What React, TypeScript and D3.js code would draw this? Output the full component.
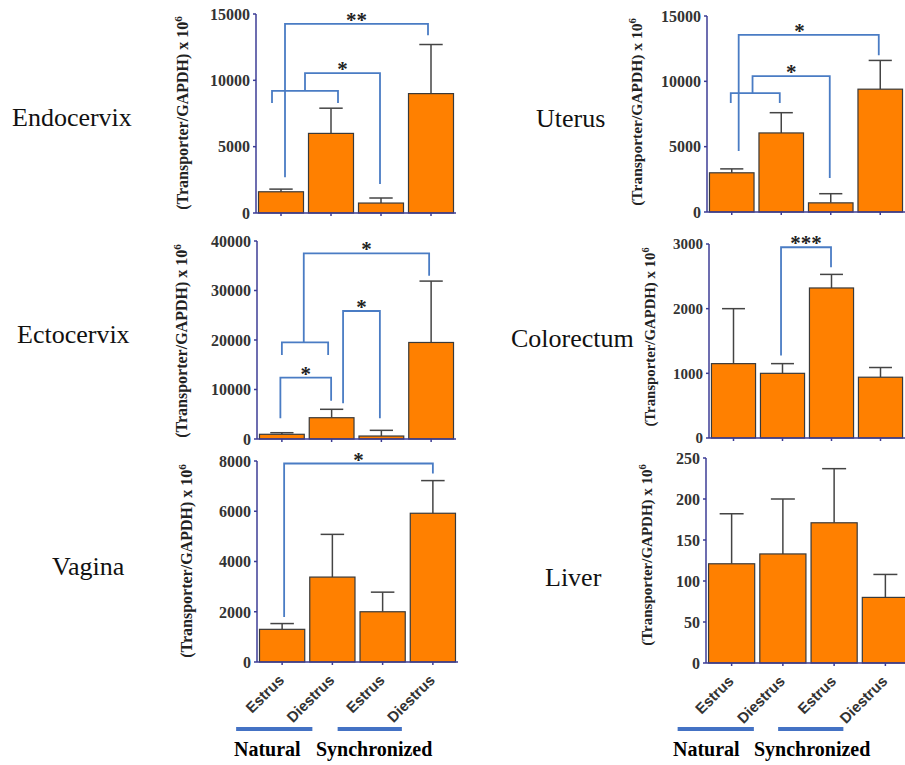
import React from "react";
import * as d3 from "d3";

// ---------- data ----------
const stages = ["Estrus", "Diestrus", "Estrus", "Diestrus"];
const groupNames = ["Natural", "Synchronized"];
const tissues = ["Endocervix", "Uterus", "Ectocervix", "Colorectum", "Vagina", "Liver"];
const yAxisTitle = "(Transporter/GAPDH) x 10";
const yAxisExp = "6";

const endocervixMean = [1600, 6000, 750, 9000];
const endocervixSEM = [200, 1900, 380, 3700];
const uterusMean = [3000, 6050, 700, 9400];
const uterusSEM = [300, 1550, 700, 2200];
const ectocervixMean = [950, 4300, 600, 19500];
const ectocervixSEM = [320, 1700, 1150, 12400];
const colorectumMean = [1150, 1000, 2320, 940];
const colorectumSEM = [850, 150, 210, 150];
const vaginaMean = [1300, 3380, 2000, 5920];
const vaginaSEM = [230, 1700, 780, 1300];
const liverMean = [121, 133, 171, 80];
const liverSEM = [61, 67, 66, 28];

const endocervixTicks = [0, 5000, 10000, 15000];
const uterusTicks = [0, 5000, 10000, 15000];
const ectocervixTicks = [0, 10000, 20000, 30000, 40000];
const colorectumTicks = [0, 1000, 2000, 3000];
const vaginaTicks = [0, 2000, 4000, 6000, 8000];
const liverTicks = [0, 50, 100, 150, 200, 250];

// significance brackets: x in bar-index units, y in data units
const endocervixSig = [
  { x1: -0.18, x2: 1.14, y: 9200, y1: 8290, y2: 8290, label: "" },
  { x1: 0.48, x2: 1.98, y: 10550, y1: 9200, y2: 2190, label: "*" },
  { x1: 0.08, x2: 2.94, y: 14250, y1: 2700, y2: 13400, label: "**" },
];
const uterusSig = [
  { x1: -0.02, x2: 0.97, y: 9100, y1: 8340, y2: 8340, label: "" },
  { x1: 0.42, x2: 1.98, y: 10400, y1: 9100, y2: 2600, label: "*" },
  { x1: 0.14, x2: 2.97, y: 13550, y1: 4670, y2: 12000, label: "*", lx: 1.37 },
];
const ectocervixSig = [
  { x1: -0.03, x2: 0.99, y: 12380, y1: 4180, y2: 7740, label: "*" },
  { x1: 1.23, x2: 1.97, y: 25860, y1: 7210, y2: 4180, label: "*" },
  { x1: 0.0, x2: 0.93, y: 19540, y1: 16970, y2: 16970, label: "" },
  { x1: 0.44, x2: 2.96, y: 37500, y1: 19540, y2: 32990, label: "*" },
];
const colorectumSig = [{ x1: 0.97, x2: 1.99, y: 2950, y1: 1275, y2: 2640, label: "***" }];
const vaginaSig = [{ x1: 0.04, x2: 3.0, y: 7900, y1: 1790, y2: 7500, label: "*" }];
const liverSig: any[] = [];

// ---------- layout ----------
const panels = [
  { name: tissues[0], mean: endocervixMean, sem: endocervixSEM, ticks: endocervixTicks, sig: endocervixSig,
    axisX: 256, rangeEnd: 456, yTop: 14, yZero: 213, nameX: 12, nameY: 126, titleX: 188, titleY: 113, titleSize: 16, tickSize: 16, xLabels: false },
  { name: tissues[1], mean: uterusMean, sem: uterusSEM, ticks: uterusTicks, sig: uterusSig,
    axisX: 707, rangeEnd: 905, yTop: 16, yZero: 212, nameX: 536, nameY: 127, titleX: 642, titleY: 112, titleSize: 15.5, tickSize: 16, xLabels: false },
  { name: tissues[2], mean: ectocervixMean, sem: ectocervixSEM, ticks: ectocervixTicks, sig: ectocervixSig,
    axisX: 257, rangeEnd: 456, yTop: 241, yZero: 439, nameX: 17, nameY: 343, titleX: 187, titleY: 341, titleSize: 16, tickSize: 16, xLabels: false },
  { name: tissues[3], mean: colorectumMean, sem: colorectumSEM, ticks: colorectumTicks, sig: colorectumSig,
    axisX: 709, rangeEnd: 905, yTop: 244, yZero: 438, nameX: 511, nameY: 347, titleX: 655, titleY: 337, titleSize: 14.8, tickSize: 15, xLabels: false },
  { name: tissues[4], mean: vaginaMean, sem: vaginaSEM, ticks: vaginaTicks, sig: vaginaSig,
    axisX: 257, rangeEnd: 458, yTop: 461, yZero: 662, nameX: 52, nameY: 575, titleX: 192, titleY: 561, titleSize: 16, tickSize: 16, xLabels: true,
    groupLines: [[-46, -20], [-45, -31]], groupTextX: [234, 316] },
  { name: tissues[5], mean: liverMean, sem: liverSEM, ticks: liverTicks, sig: liverSig,
    axisX: 706, rangeEnd: 911, yTop: 458, yZero: 663, nameX: 545, nameY: 586, titleX: 652, titleY: 555, titleSize: 15, tickSize: 16, xLabels: true,
    groupLines: [[-54, -29], [-56, -42]], groupTextX: [673, 754] },
];

const AXIS = "#3c3c96";
const BAR = "#ff8000";
const BRACKET = "#4a7cc4";
const SERIF = "'Liberation Serif', 'Times New Roman', serif";
const SANS = "'Liberation Sans', Arial, sans-serif";

function Panel({ p }: { p: any }) {
  const idx = d3.range(p.mean.length);
  const x = d3.scaleBand<number>().domain(idx).range([p.axisX, p.rangeEnd]).paddingInner(0.1).paddingOuter(0.05);
  const yMax = p.ticks[p.ticks.length - 1];
  const y = d3.scaleLinear().domain([0, yMax]).range([p.yZero, p.yTop]);
  const step = x.step();
  const cx = (i: number) => (x(0) as number) + x.bandwidth() / 2 + i * step;
  const bw = x.bandwidth();
  const cap = bw * 0.52;
  return (
    <g>
      <text x={p.nameX} y={p.nameY} fontFamily={SERIF} fontSize={26} fill="#111">{p.name}</text>
      <text transform={`translate(${p.titleX},${p.titleY}) rotate(-90)`} textAnchor="middle"
        fontFamily={SERIF} fontWeight="bold" fontSize={p.titleSize} fill="#222">
        {yAxisTitle}
        <tspan fontSize={p.titleSize * 0.7} dy={-p.titleSize * 0.4}>{yAxisExp}</tspan>
      </text>
      {/* bars */}
      {idx.map((i) => (
        <g key={i}>
          <line x1={cx(i)} x2={cx(i)} y1={y(p.mean[i])} y2={y(p.mean[i] + p.sem[i])} stroke="#444" strokeWidth={1.5} />
          <line x1={cx(i) - cap / 2} x2={cx(i) + cap / 2} y1={y(p.mean[i] + p.sem[i])} y2={y(p.mean[i] + p.sem[i])} stroke="#444" strokeWidth={1.5} />
          <rect x={x(i)} y={y(p.mean[i])} width={bw} height={p.yZero - y(p.mean[i])} fill={BAR} stroke="#3a3a3a" strokeWidth={1.2} />
        </g>
      ))}
      {/* y axis */}
      <line x1={p.axisX} x2={p.axisX} y1={p.yZero} y2={p.yTop} stroke={AXIS} strokeWidth={1.5} />
      {p.ticks.map((t: number) => (
        <g key={t}>
          <line x1={p.axisX - 3} x2={p.axisX} y1={y(t)} y2={y(t)} stroke={AXIS} strokeWidth={1.5} />
          <text x={p.axisX - 6} y={y(t)} dy="0.36em" textAnchor="end" fontFamily={SERIF} fontWeight="bold" fontSize={p.tickSize} fill="#333">{t}</text>
        </g>
      ))}
      {/* x axis */}
      <line x1={p.axisX} x2={Math.min(p.rangeEnd, 905)} y1={p.yZero} y2={p.yZero} stroke={AXIS} strokeWidth={1.5} />
      {idx.map((i) => (
        <line key={i} x1={cx(i)} x2={cx(i)} y1={p.yZero} y2={p.yZero + 3} stroke={AXIS} strokeWidth={1.5} />
      ))}
      {/* significance */}
      {p.sig.map((s: any, k: number) => {
        const xa = cx(s.x1), xb = cx(s.x2);
        const lx = s.lx !== undefined ? cx(s.lx) : (xa + xb) / 2;
        return (
          <g key={k}>
            <path d={`M${xa},${y(s.y1)}V${y(s.y)}H${xb}V${y(s.y2)}`} fill="none" stroke={BRACKET} strokeWidth={1.8} />
            {s.label && (
              <text x={lx} y={y(s.y) + 3} textAnchor="middle" fontFamily={SERIF} fontWeight="bold" fontSize={21} fill="#222">{s.label}</text>
            )}
          </g>
        );
      })}
      {/* x labels */}
      {p.xLabels && (
        <g>
          {idx.map((i) => (
            <text key={i} transform={`translate(${cx(i) + 3},${p.yZero + 19}) rotate(-45)`} textAnchor="end"
              fontFamily={SANS} fontWeight="bold" fontSize={15} fill="#333">{stages[i]}</text>
          ))}
          {p.groupLines.map((g: number[], k: number) => (
            <line key={k} x1={cx(2 * k) + g[0]} x2={cx(2 * k + 1) + g[1]} y1={729} y2={729} stroke="#4472c4" strokeWidth={4} />
          ))}
          {groupNames.map((n, k) => (
            <text key={n} x={p.groupTextX[k]} y={756} fontFamily={SERIF} fontWeight="bold" fontSize={20} fill="#000">{n}</text>
          ))}
        </g>
      )}
    </g>
  );
}

export default function App() {
  return (
    <svg width={905} height={765} style={{ position: "absolute", left: 0, top: 0, background: "#fff" }}>
      <rect width={905} height={765} fill="#fff" />
      {panels.map((p) => (
        <Panel key={p.name} p={p} />
      ))}
    </svg>
  );
}
